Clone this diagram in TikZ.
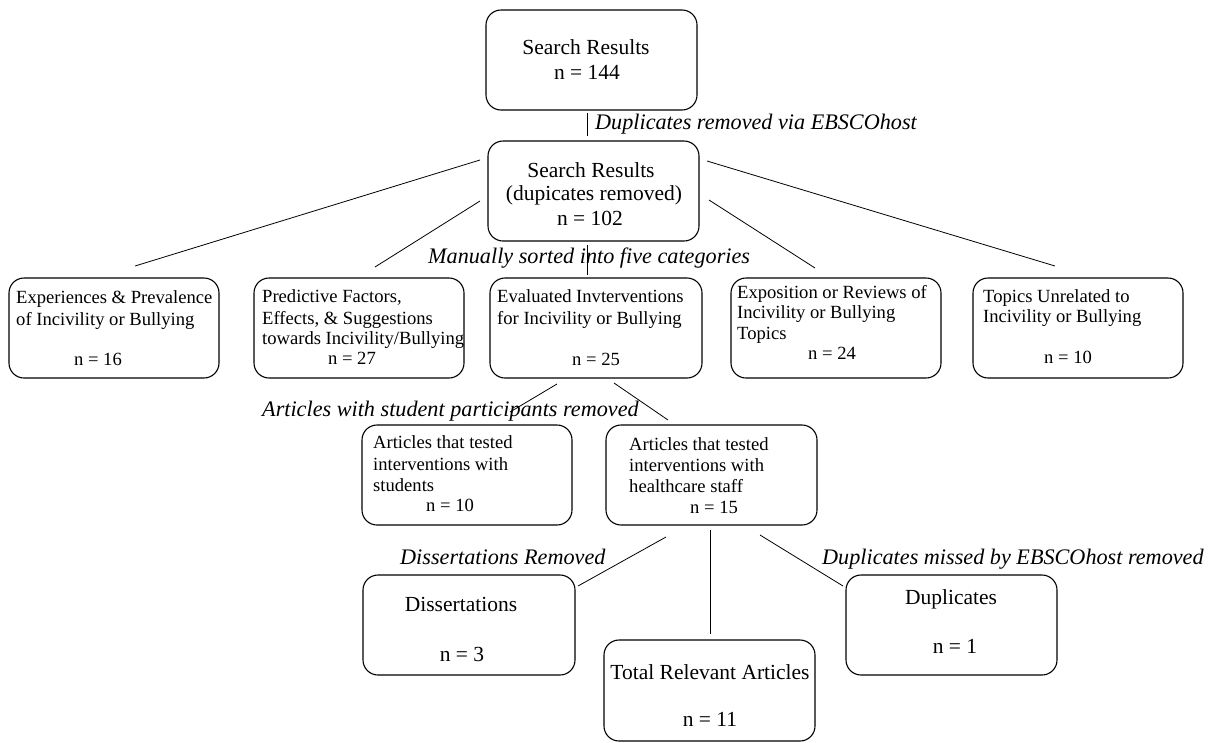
\documentclass[tikz,border=0pt]{standalone}
\usepackage{fontspec}
\setmainfont{Liberation Serif}
\begin{document}
\begin{tikzpicture}[x=1pt,y=-1pt,
  box/.style={draw=black,line width=1.1pt,rounded corners=15pt,inner sep=0pt},
  big/.style={font=\fontsize{21.5}{24}\selectfont,inner sep=0pt},
  mid/.style={font=\fontsize{18.6}{21}\selectfont,inner sep=0pt},
  lt/.style={mid,anchor=mid west,yshift=-4pt},
  lab/.style={font=\fontsize{22.2}{24}\selectfont\itshape,inner sep=0pt,anchor=mid west,yshift=-4pt},
  conn/.style={line width=0.8pt}]
\useasboundingbox (0,0) rectangle (1212,742);
% boxes
\newcommand{\bx}[5]{\node[box,minimum width=#4-#2,minimum height=#5-#3] (#1) at ({(#2+#4)/2},{(#3+#5)/2}) {};}
\bx{top}{486}{10}{697}{110}
\bx{sr}{488}{141}{699}{241}
\bx{c1}{9}{278}{219}{378}
\bx{c2}{254}{278}{464}{378}
\bx{c3}{490}{278}{702}{378}
\bx{c4}{731}{278}{941}{378}
\bx{c5}{973}{278}{1183}{378}
\bx{st}{362}{425}{572}{525}
\bx{hs}{606}{425}{817}{525}
\bx{di}{363}{575}{575}{675}
\bx{tot}{604}{640}{815}{741}
\bx{du}{846}{575}{1057}{675}
% texts
\node[big] (t1) at (586,47) {Search Results};
\node[big] (t2) at (587,72) {n = 144};
\node[big] (s1) at (591,170) {Search Results};
\node[big] (s2) at (594,195) {(dupicates removed)};
\node[big] (s3) at (590,218) {n = 102};
\node[lt] (a1) at (16,297) {Experiences \& Prevalence};
\node[lt] (a2) at (16,319) {of Incivility or Bullying};
\node[mid] (a3) at (98,359) {n = 16};
\node[lt] (b1) at (262,296) {Predictive Factors,};
\node[lt] (b2) at (262,318) {Effects, \& Suggestions};
\node[lt] (b3) at (262,338) {towards Incivility/Bullying};
\node[mid] (b4) at (352,358) {n = 27};
\node[lt] (e1) at (497,296) {Evaluated Invterventions};
\node[lt] (e2) at (497,318) {for Incivility or Bullying};
\node[mid] (e3) at (596,359) {n = 25};
\node[lt] (x1) at (737,292) {Exposition or Reviews of};
\node[lt] (x2) at (737,312) {Incivility or Bullying};
\node[lt] (x3) at (737,333) {Topics};
\node[mid] (x4) at (832,353) {n = 24};
\node[lt] (u1) at (983,296) {Topics Unrelated to};
\node[lt] (u2) at (983,316) {Incivility or Bullying};
\node[mid] (u3) at (1068,357) {n = 10};
\node[lt] (p1) at (373,442) {Articles that tested};
\node[lt] (p2) at (373,464) {interventions with};
\node[lt] (p3) at (373,485) {students};
\node[mid] (p4) at (450,505) {n = 10};
\node[lt] (h1) at (629,444) {Articles that tested};
\node[lt] (h2) at (629,465) {interventions with};
\node[lt] (h3) at (629,486) {healthcare staff};
\node[mid] (h4) at (714,507) {n = 15};
\node[big] (d1) at (461,604) {Dissertations};
\node[big] (d2) at (462,654) {n = 3};
\node[big] (o1) at (710,672) {Total Relevant Articles};
\node[big] (o2) at (710,719) {n = 11};
\node[big] (q1) at (951,599) {Duplicates};
\node[big] (q2) at (955,646) {n = 1};
% labels
\node[lab] (l1) at (595,123) {Duplicates removed via EBSCOhost};
\node[lab] (l2) at (428,257) {Manually sorted into five categories};
\node[lab] (l3) at (262,410) {Articles with student participants removed};
\node[lab] (l4) at (400,558) {Dissertations Removed};
\node[lab] (l5) at (822,558) {Duplicates missed by EBSCOhost removed};
% connector end points
\coordinate (k0a) at (587,113); \coordinate (k0b) at (587,136);
\coordinate (k1a) at (480,160); \coordinate (k1b) at (135,266);
\coordinate (k2a) at (480,201); \coordinate (k2b) at (375,267);
\coordinate (k3a) at (587,245); \coordinate (k3b) at (587,275);
\coordinate (k4a) at (709,200); \coordinate (k4b) at (815,268);
\coordinate (k5a) at (707,161); \coordinate (k5b) at (1055,266);
\coordinate (k6a) at (557,384); \coordinate (k6b) at (510,412);
\coordinate (k7a) at (614,383); \coordinate (k7b) at (668,420);
\coordinate (k8a) at (666,537); \coordinate (k8b) at (578,586);
\coordinate (k9a) at (710,530); \coordinate (k9b) at (710,634);
\coordinate (k10a) at (760,535); \coordinate (k10b) at (843,586);
\draw[conn] (k0a) -- (k0b);
\draw[conn] (k1a) -- (k1b);
\draw[conn] (k2a) -- (k2b);
\draw[conn] (k3a) -- (k3b);
\draw[conn] (k4a) -- (k4b);
\draw[conn] (k5a) -- (k5b);
\draw[conn] (k6a) -- (k6b);
\draw[conn] (k7a) -- (k7b);
\draw[conn] (k8a) -- (k8b);
\draw[conn] (k9a) -- (k9b);
\draw[conn] (k10a) -- (k10b);
\end{tikzpicture}
\end{document}
